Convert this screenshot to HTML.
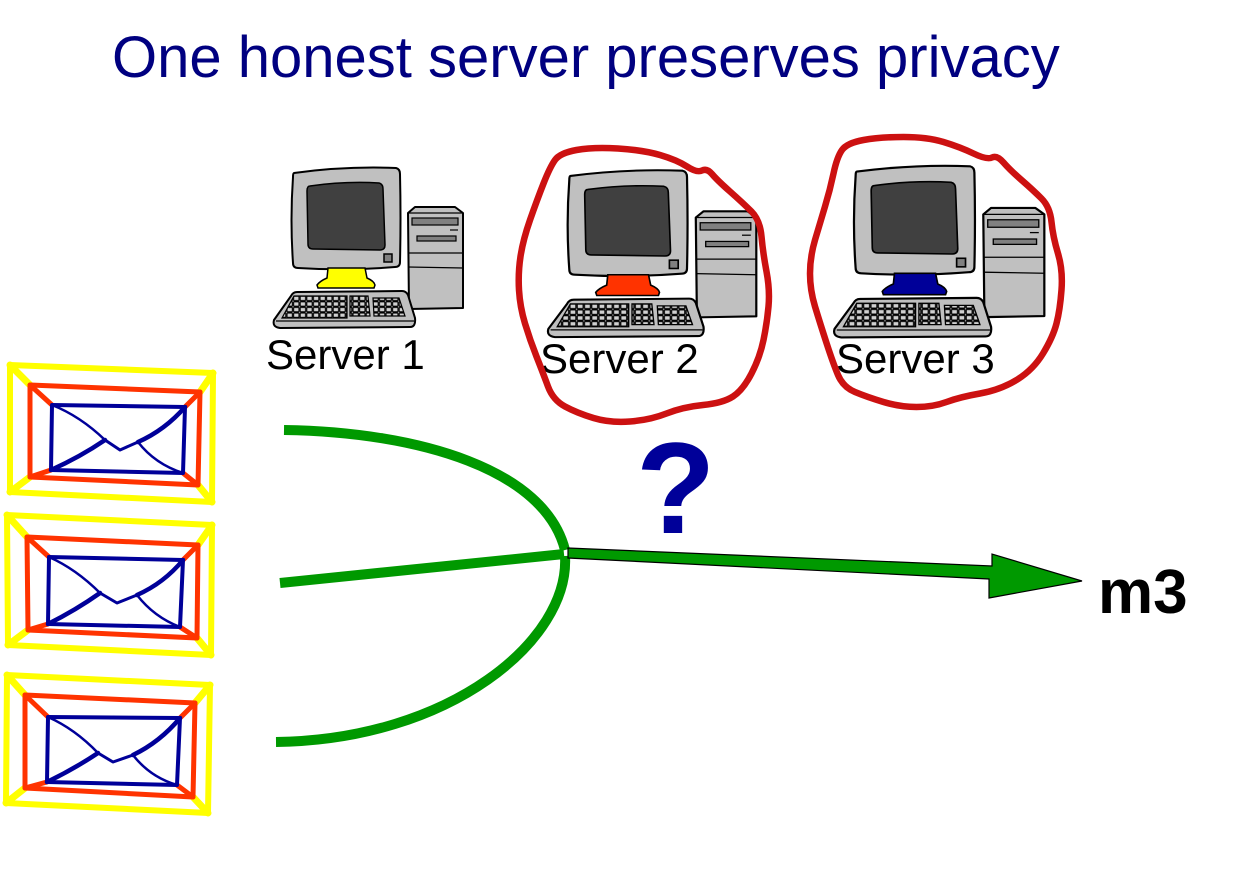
<!DOCTYPE html>
<html><head><meta charset="utf-8"><style>
html,body{margin:0;padding:0;background:#fff;width:1236px;height:879px;overflow:hidden}
svg{display:block}
text{font-family:"Liberation Sans",Arial,sans-serif}
</style></head><body>
<svg width="1236" height="879" viewBox="0 0 1236 879" xmlns="http://www.w3.org/2000/svg">
<defs>
<pattern id="keys" patternUnits="userSpaceOnUse" width="6.6" height="5.6">
<rect x="0.6" y="0.6" width="5.4" height="4.4" rx="0.6" fill="#d0d0d0" stroke="#000" stroke-width="1.1"/>
</pattern>
<g id="pc">
<!-- tower -->
<path d="M148,63 L155,57 L195,57 L203,63 L203,158 L149,159 Z" fill="#c0c0c0" stroke="#000" stroke-width="2" stroke-linejoin="round"/>
<path d="M148,63 L203,63" stroke="#000" stroke-width="1.2"/>
<rect x="152" y="68" width="46" height="7" fill="#808080" stroke="#000" stroke-width="1.2"/>
<rect x="157" y="86" width="39" height="5" fill="#808080" stroke="#000" stroke-width="1.2"/>
<path d="M190,80 L198,80" stroke="#000" stroke-width="1.2"/>
<path d="M148,103 L203,103 M148,117 L203,118" stroke="#000" stroke-width="1.2"/>
<!-- monitor -->
<path d="M34,23 Q85,16 136,18 Q140,19 140,24 Q141,68 140,112 Q140,117 135,117 Q87,121 38,118 Q33,118 33,113 Q30,70 33,27 Q33,23 34,23 Z" fill="#c0c0c0" stroke="#000" stroke-width="2"/>
<path d="M50,36 Q85,31 119,33 Q123,34 123,39 L125,95 Q125,100 120,100 L53,99 Q48,99 48,94 L47,41 Q47,36 50,36 Z" fill="#404040" stroke="#000" stroke-width="1.5"/>
<rect x="124" y="104" width="8" height="8" fill="#808080" stroke="#000" stroke-width="1.5"/>
<!-- keyboard -->
<path d="M37,142 L142,141 Q146,141 148,145 L155,168 Q156,177 150,177 L20,178 Q12,177 14,170 L31,146 Q33,142 37,142 Z" fill="#c0c0c0" stroke="#000" stroke-width="2"/>
<path d="M16,171 L154,171" stroke="#000" stroke-width="1.2"/>
<path d="M34,146 L87,146 L87,168 L22,168 Z" fill="url(#keys)" stroke="#000" stroke-width="1.2"/>
<path d="M90,146 L108,146 L110,166 L90,166 Z" fill="url(#keys)" stroke="#000" stroke-width="1.2"/>
<path d="M113,148 L139,148 L145,166 L114,166 Z" fill="url(#keys)" stroke="#000" stroke-width="1.2"/>
</g>
<path id="stand" d="M68,118 L105,118 L107,128 Q114,131 115,135 L114,138 L58,138 L57,135 Q60,131 67,128 Z" stroke="#000" stroke-width="1.5"/>
</defs>

<!-- Title -->
<text x="112" y="77" font-size="58" fill="#000080">One honest server preserves privacy</text>

<!-- Server 1 -->
<g transform="translate(260,150)">
<use href="#pc"/>
<use href="#stand" fill="#ffff00"/>
</g>
<text x="266" y="369" font-size="42" fill="#000">Server 1</text>

<!-- Server 2 -->
<g transform="translate(533,152) scale(1.1,1.04)">
<use href="#pc"/>
<use href="#stand" fill="#ff3300"/>
</g>
<text x="540" y="373" font-size="42" fill="#000">Server 2</text>

<!-- Server 3 -->
<g transform="translate(819,147) scale(1.11,1.07)">
<use href="#pc"/>
<use href="#stand" fill="#000099"/>
</g>
<text x="836" y="373" font-size="42" fill="#000">Server 3</text>

<!-- red blobs -->
<path d="M576.5,150 Q593,147 618,148.5 Q643,150 660,155 Q677,160 687,166.5 Q697,173 702,170.5 Q707,168 712,174 Q717,180 730,191.5 Q743,203 751.5,211.5 Q760,220 761.5,236.5 Q763,253 766.5,271.5 Q770,290 768.5,306.5 Q767,323 763.5,340 Q760,357 751.5,373.5 Q743,390 733,396.5 Q723,403 703,405 Q683,407 666.5,413.5 Q650,420 630,421.5 Q610,423 593.5,418 Q577,413 565,406.5 Q553,400 548,386.5 Q543,373 536.5,356.5 Q530,340 525,323.5 Q520,307 519,290 Q518,273 520.5,256.5 Q523,240 530,220 Q537,200 543.5,183.5 Q550,167 555,160 Q560,153 576.5,150 Z" fill="none" stroke="#cc1111" stroke-width="6.5" stroke-linejoin="round"/>
<path d="M863.5,140 Q880,137 903.5,137 Q927,137 943.5,142 Q960,147 973.5,153.5 Q987,160 992,157.5 Q997,155 1003.5,162.5 Q1010,170 1021.5,180 Q1033,190 1041.5,198.5 Q1050,207 1051.5,222 Q1053,237 1058,253.5 Q1063,270 1061.5,290 Q1060,310 1056.5,323.5 Q1053,337 1043,353.5 Q1033,370 1016.5,380 Q1000,390 980,393.5 Q960,397 946.5,402 Q933,407 916.5,407 Q900,407 883.5,402 Q867,397 855,392 Q843,387 838,375 Q833,363 826.5,343 Q820,323 815,306.5 Q810,290 810,273.5 Q810,257 815,240 Q820,223 825,206.5 Q830,190 833.5,173.5 Q837,157 842,150 Q847,143 863.5,140 Z" fill="none" stroke="#cc1111" stroke-width="6.5" stroke-linejoin="round"/>

<!-- Envelopes -->
<g fill="none" stroke-linejoin="round" stroke-linecap="round">
<!-- env 1 -->
<polygon points="10,365 213,373 212,502 10,492" stroke="#ffff00" stroke-width="6"/>
<path d="M10,365 L30,385 M213,373 L200,392 M212,502 L198,485 M10,492 L30,477" stroke="#ffff00" stroke-width="7"/>
<polygon points="30,385 200,392 198,485 30,477" stroke="#ff3300" stroke-width="5"/>
<path d="M30,385 L52,405 M200,392 L185,407 M198,485 L183,473 M30,477 L51,470" stroke="#ff3300" stroke-width="5"/>
<polygon points="52,405 185,407 183,473 51,470" stroke="#000099" stroke-width="4"/>
<path d="M52,405 Q80,416 105,440 M138,442 Q155,464 183,473" stroke="#000099" stroke-width="2.5"/>
<path d="M105,440 L120,450 L138,442" stroke="#000099" stroke-width="3"/>
<path d="M51,470 Q80,457 105,440 M138,442 Q165,430 185,407" stroke="#000099" stroke-width="4.5"/>
<!-- env 2 -->
<polygon points="7,515 212,525 211,655 8,645" stroke="#ffff00" stroke-width="6"/>
<path d="M7,515 L27,537 M212,525 L198,545 M211,655 L197,638 M8,645 L28,630" stroke="#ffff00" stroke-width="7"/>
<polygon points="27,537 198,545 197,638 28,630" stroke="#ff3300" stroke-width="5"/>
<path d="M27,537 L49,557 M198,545 L183,560 M197,638 L180,627 M28,630 L48,624" stroke="#ff3300" stroke-width="5"/>
<polygon points="49,557 183,560 180,627 48,624" stroke="#000099" stroke-width="4"/>
<path d="M49,557 Q76,569 100,593 M137,595 Q154,617 180,627" stroke="#000099" stroke-width="2.5"/>
<path d="M100,593 L117,603 L137,595" stroke="#000099" stroke-width="3"/>
<path d="M48,624 Q76,610 100,593 M137,595 Q164,583 183,560" stroke="#000099" stroke-width="4.5"/>
<!-- env 3 -->
<polygon points="7,675 210,685 208,813 6,803" stroke="#ffff00" stroke-width="6"/>
<path d="M7,675 L25,695 M210,685 L195,703 M208,813 L193,797 M6,803 L25,788" stroke="#ffff00" stroke-width="7"/>
<polygon points="25,695 195,703 193,797 25,788" stroke="#ff3300" stroke-width="5"/>
<path d="M25,695 L48,717 M195,703 L180,718 M193,797 L177,785 M25,788 L47,782" stroke="#ff3300" stroke-width="5"/>
<polygon points="48,717 180,718 177,785 47,782" stroke="#000099" stroke-width="4"/>
<path d="M48,717 Q75,729 98,753 M133,755 Q150,777 177,785" stroke="#000099" stroke-width="2.5"/>
<path d="M98,753 L113,762 L133,755" stroke="#000099" stroke-width="3"/>
<path d="M47,782 Q74,769 98,753 M133,755 Q160,742 180,718" stroke="#000099" stroke-width="4.5"/>
</g>

<!-- green curves -->
<g fill="none" stroke="#009900" stroke-width="10">
<path d="M284,430 C420,432 545,470 565,550"/>
<path d="M565,556 C570,640 450,740 276,742"/>
<path d="M280,583 L564,554"/>
</g>
<!-- arrow -->
<polygon points="568,548 992,566 992,554 1082,581 989,598 989,579 568,558" fill="#009900" stroke="#000" stroke-width="1.2" stroke-linejoin="miter"/>

<!-- question mark -->
<text x="636" y="533" font-size="130" font-weight="bold" fill="#000099">?</text>
<!-- m3 -->
<text x="1098" y="613" font-size="62" font-weight="bold" fill="#000">m3</text>
</svg>
</body></html>
